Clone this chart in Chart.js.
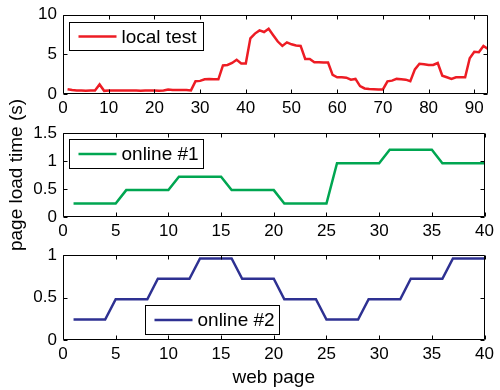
<!DOCTYPE html>
<html><head><meta charset="utf-8">
<script src="https://cdn.jsdelivr.net/npm/chart.js@4.4.1/dist/chart.umd.min.js"></script>
<style>
html,body{margin:0;padding:0;background:#fff;}
#wrap{position:relative;width:500px;height:390px;overflow:hidden;}
canvas{position:absolute;left:0;top:0;}
</style></head><body>
<div id="wrap">
<canvas id="c1" width="500" height="390"></canvas>
<canvas id="c2" width="500" height="390"></canvas>
<canvas id="c3" width="500" height="390"></canvas>
</div>
<script>
// ---------- data ----------
const localTestLabel = 'local test';
const online1Label = 'online #1';
const online2Label = 'online #2';
const yAxisTitle = 'page load time (s)';
const xAxisTitle = 'web page';

const localTest = [
  0.6, 0.5, 0.45, 0.45, 0.4, 0.45, 0.45, 1.2, 0.4, 0.45,
  0.45, 0.45, 0.45, 0.45, 0.45, 0.45, 0.4, 0.45, 0.45, 0.45,
  0.4, 0.45, 0.55, 0.5, 0.5, 0.5, 0.5, 0.45, 1.6, 1.65,
  1.85, 1.9, 1.85, 1.85, 3.6, 3.65, 3.9, 4.3, 3.85, 3.85,
  7.0, 7.6, 8.0, 7.8, 8.2, 7.4, 6.6, 6.05, 6.5, 6.25,
  6.1, 6.05, 4.4, 4.4, 4.0, 4.0, 3.95, 3.95, 2.4, 2.1,
  2.1, 2.05, 1.8, 1.9, 1.0, 0.7, 0.62, 0.6, 0.58, 0.58,
  1.6, 1.68, 1.9, 1.85, 1.8, 1.6, 3.1, 3.8, 3.75, 3.65,
  3.65, 3.9, 2.3, 2.1, 1.9, 2.1, 2.1, 2.1, 4.5, 5.3,
  5.25, 6.05, 5.65
];
const online1 = [
  0.24, 0.24, 0.24, 0.24, 0.24, 0.48, 0.48, 0.48, 0.48, 0.48,
  0.72, 0.72, 0.72, 0.72, 0.72, 0.48, 0.48, 0.48, 0.48, 0.48,
  0.24, 0.24, 0.24, 0.24, 0.24, 0.96, 0.96, 0.96, 0.96, 0.96,
  1.2, 1.2, 1.2, 1.2, 1.2, 0.96, 0.96, 0.96, 0.96, 0.96
];
const online2 = [
  0.24, 0.24, 0.24, 0.24, 0.48, 0.48, 0.48, 0.48, 0.72, 0.72,
  0.72, 0.72, 0.96, 0.96, 0.96, 0.96, 0.72, 0.72, 0.72, 0.72,
  0.48, 0.48, 0.48, 0.48, 0.24, 0.24, 0.24, 0.24, 0.48, 0.48,
  0.48, 0.48, 0.72, 0.72, 0.72, 0.72, 0.96, 0.96, 0.96, 0.96
];
const xRange1 = [0, 93], xStep1 = 10;
const yRange1 = [0, 10], yStep1 = 5;
const xRange2 = [0, 40], xStep2 = 5;
const yRange2 = [0, 1.5], yStep2 = 0.5;
const xRange3 = [0, 40], xStep3 = 5;
const yRange3 = [0, 1], yStep3 = 0.5;

// ---------- styling ----------
const FONT = "'Liberation Sans', Arial, Helvetica, sans-serif";
const TICK_FONT = {family: FONT, size: 17, lineHeight: 1};
const LEGEND_FONT_SIZE = 19;
const W = 500, H = 390;
const PLOT_LEFT = 63, PLOT_RIGHT = 488;

const framePlugin = {
  id: 'frame',
  afterDraw(chart, args, opts) {
    const {ctx, chartArea: a, scales: {x, y}} = chart;
    ctx.save();
    ctx.strokeStyle = '#000';
    ctx.lineWidth = 1;
    const L = Math.round(a.left) + 0.5, R = Math.round(a.right) - 0.5;
    const T = Math.round(a.top) + 0.5, B = Math.round(a.bottom) - 0.5;
    ctx.beginPath();
    ctx.rect(L, T, R - L, B - T);
    const tl = 4;
    x.ticks.forEach(t => {
      const px = Math.round(x.getPixelForValue(t.value)) + 0.5;
      ctx.moveTo(px, B); ctx.lineTo(px, B - tl);
      ctx.moveTo(px, T); ctx.lineTo(px, T + tl);
    });
    y.ticks.forEach(t => {
      const py = Math.round(y.getPixelForValue(t.value)) + 0.5;
      ctx.moveTo(L, py); ctx.lineTo(L + tl, py);
      ctx.moveTo(R, py); ctx.lineTo(R - tl, py);
    });
    ctx.stroke();
    // legend box (MATLAB style)
    const lg = opts.legend;
    const ds = chart.data.datasets[0];
    const bx = Math.round(a.left + lg.dx) + 0.5, by = Math.round(a.top + lg.dy) + 0.5;
    ctx.fillStyle = '#fff';
    ctx.fillRect(bx, by, lg.w, lg.h);
    ctx.strokeRect(bx, by, lg.w, lg.h);
    const cy = by + lg.h / 2;
    ctx.beginPath();
    ctx.strokeStyle = ds.borderColor;
    ctx.lineWidth = 2.5;
    ctx.moveTo(bx + 9, cy); ctx.lineTo(bx + 47, cy);
    ctx.stroke();
    ctx.fillStyle = '#000';
    ctx.font = LEGEND_FONT_SIZE + 'px ' + FONT;
    ctx.textBaseline = 'middle';
    ctx.textAlign = 'left';
    ctx.fillText(ds.label, bx + 52, cy + 1);
    ctx.restore();
  }
};

function makeChart(id, values, label, color, xr, xs, yr, ys, pos) {
  const pts = values.map((v, i) => ({x: i + 1, y: v}));
  const xAxisH = pos.xAxisH;
  return new Chart(document.getElementById(id), {
    type: 'line',
    data: {datasets: [{label, data: pts, borderColor: color, backgroundColor: color,
      borderWidth: 2.5, pointRadius: 0, tension: 0, fill: false}]},
    options: {
      responsive: false, animation: false, devicePixelRatio: 1,
      layout: {padding: {left: 0, right: W - PLOT_RIGHT, top: pos.top, bottom: H - pos.bottom - xAxisH}},
      plugins: {legend: {display: false}, tooltip: {enabled: false},
        frame: {legend: pos.legend}},
      scales: {
        x: {type: 'linear', min: xr[0], max: xr[1],
          grid: {display: false, drawTicks: false}, border: {display: false},
          ticks: {stepSize: xs, includeBounds: false, autoSkip: false, maxRotation: 0,
            font: TICK_FONT, color: '#000', padding: pos.xPad,
            callback: v => String(parseFloat(v.toFixed(3)))},
          title: pos.xTitle ? {display: true, text: pos.xTitle, color: '#000',
            font: {family: FONT, size: 19, lineHeight: 1.2}, padding: {top: 0, bottom: 1}} : {display: false},
          afterFit: s => { s.height = xAxisH; }
        },
        y: {type: 'linear', min: yr[0], max: yr[1],
          grid: {display: false, drawTicks: false}, border: {display: false},
          ticks: {stepSize: ys, includeBounds: false, font: TICK_FONT, color: '#000', padding: 6,
            callback: v => String(parseFloat(v.toFixed(3)))},
          title: pos.yTitle ? {display: true, text: pos.yTitle, color: '#000',
            font: {family: FONT, size: 19, lineHeight: 1.2}, padding: {top: 5, bottom: 0}} : {display: false},
          afterFit: s => { s.width = PLOT_LEFT; }
        }
      }
    },
    plugins: [framePlugin]
  });
}

makeChart('c1', localTest, localTestLabel, '#ED1C24', xRange1, xStep1, yRange1, yStep1,
  {top: 10, bottom: 94, xAxisH: 25, xPad: 6, legend: {dx: 6, dy: 7, w: 134, h: 28}});
makeChart('c2', online1, online1Label, '#00A651', xRange2, xStep2, yRange2, yStep2,
  {top: 133, bottom: 217, xAxisH: 25, xPad: 6, yTitle: yAxisTitle, legend: {dx: 6, dy: 6, w: 134, h: 29}});
makeChart('c3', online2, online2Label, '#2E3192', xRange3, xStep3, yRange3, yStep3,
  {top: 255, bottom: 340, xAxisH: 50, xPad: 6, xTitle: xAxisTitle, legend: {dx: 82, dy: 50, w: 134, h: 29}});
</script>
</body></html>
